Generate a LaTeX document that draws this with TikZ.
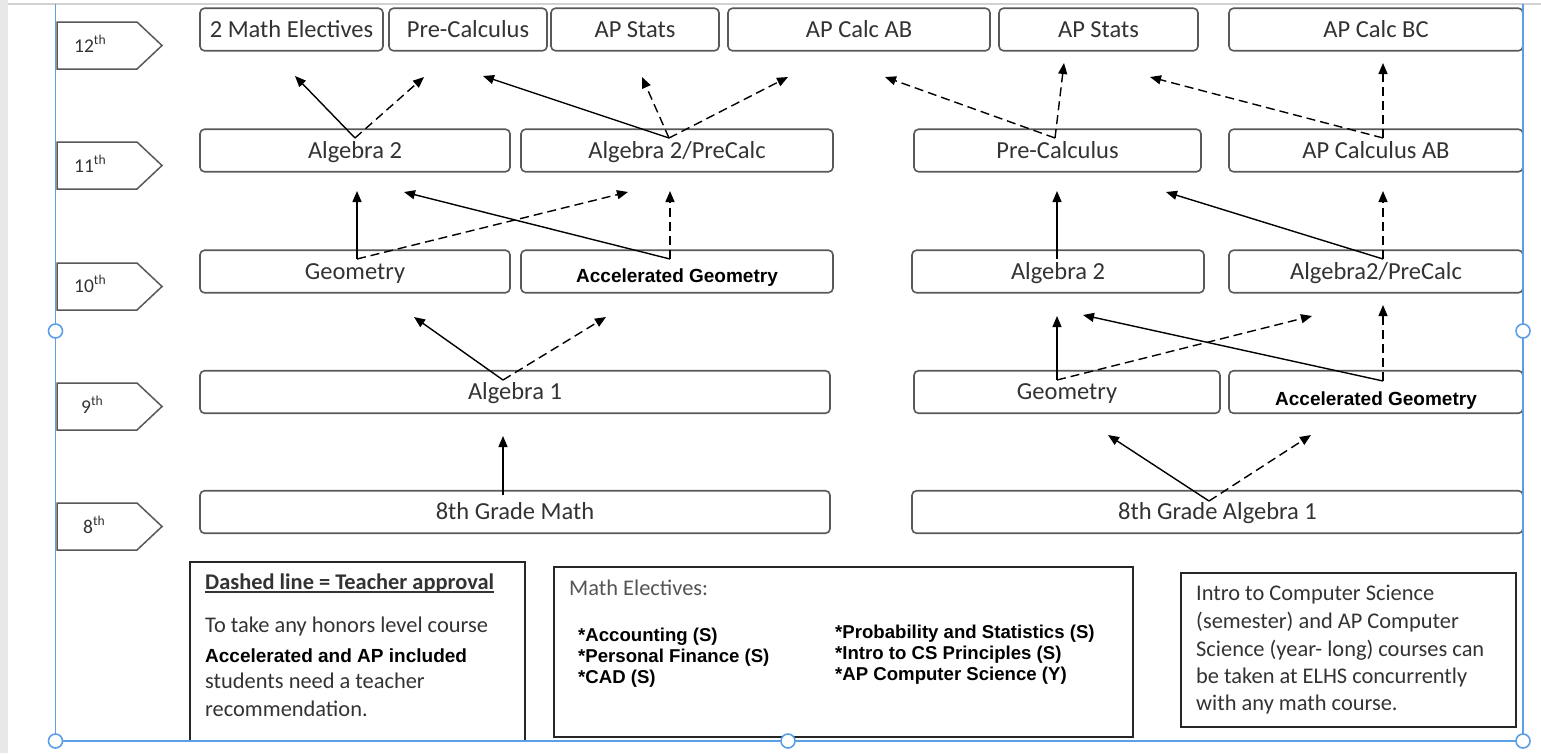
\documentclass[tikz,border=0pt]{standalone}
\usepackage{fontspec}
\setmainfont{Carlito}
\newfontfamily\arialf{Liberation Sans}
\usetikzlibrary{arrows.meta}
\definecolor{boxgray}{HTML}{595959}
\definecolor{txtgray}{HTML}{333333}
\definecolor{lightgray}{HTML}{555555}
\definecolor{selblue}{HTML}{5B9FE8}
\definecolor{stripgray}{HTML}{E8E8E8}
\tikzset{
  course/.style={draw=boxgray, line width=1.6pt, rounded corners=4.5pt, inner sep=0pt,
    minimum height=42.5pt, text=txtgray, font=\fontsize{24.5}{28}\selectfont,
    text height=15.8pt, text depth=0pt},
  boldcourse/.style={course, text=black, font=\arialf\bfseries\fontsize{19}{22}\selectfont},
  arr/.style={line width=1.4pt, black, -{Triangle[length=11pt,width=9pt]}},
  darr/.style={arr, dash pattern=on 9pt off 5pt},
  gradebox/.style={draw=boxgray, line width=1.5pt, fill=white},
  gradetext/.style={anchor=base west, inner sep=0pt, text=txtgray, font=\fontsize{19.5}{22}\selectfont},
  legbox/.style={draw=black!85, line width=1.4pt},
  legtext/.style={anchor=base west, inner sep=0pt, text=txtgray, font=\fontsize{22.4}{27}\selectfont},
  legbold/.style={anchor=base west, inner sep=0pt, text=black, font=\arialf\bfseries\fontsize{19}{22}\selectfont},
  elective/.style={anchor=base west, inner sep=0pt, text=black, align=left,
    font=\arialf\bfseries\fontsize{18.6}{20.8}\selectfont},
  handle/.style={draw=selblue, line width=1.6pt, fill=white}
}
\begin{document}
\begin{tikzpicture}[x=1pt,y=-1pt]
\useasboundingbox (0,0) rectangle (1541,753);
\fill[white] (0,0) rectangle (1541,753);
\fill[stripgray] (0,0) rectangle (8,753);
\draw[stripgray!90!black, line width=1.3pt] (8,4) -- (1541,4);

% grade labels
\foreach \yy/\nm in {22/g12, 142/g11, 263/g10, 383/g9, 503/g8}{
  \draw[gradebox] (57,\yy) -- ++(80,0) -- ++(25,23.5) -- ++(-25,23.5) -- ++(-80,0) -- cycle;
}
\node[gradetext] (t12) at (74,52) {12\textsuperscript{th}};
\node[gradetext] (t11) at (74,172) {11\textsuperscript{th}};
\node[gradetext] (t10) at (74,292) {10\textsuperscript{th}};
\node[gradetext] (t9) at (81,413) {9\textsuperscript{th}};
\node[gradetext] (t8) at (83,533) {8\textsuperscript{th}};

% row 12
\node[course, minimum width=183pt] (el) at (291.5,29.5) {2 Math Electives};
\node[course, minimum width=158pt] (pcA) at (468,29.5) {Pre-Calculus};
\node[course, minimum width=168pt] (apsA) at (635,29.5) {AP Stats};
\node[course, minimum width=262pt] (ab) at (859,29.5) {AP Calc AB};
\node[course, minimum width=199pt] (apsB) at (1098.5,29.5) {AP Stats};
\node[course, minimum width=294pt] (bc) at (1376,29.5) {AP Calc BC};
% row 11
\node[course, minimum width=310pt] (algA) at (355,150.5) {Algebra 2};
\node[course, minimum width=312pt] (apcA) at (677,150.5) {Algebra 2/PreCalc};
\node[course, minimum width=287pt] (pcB) at (1057.5,150.5) {Pre-Calculus};
\node[course, minimum width=294pt] (cab) at (1376,150.5) {AP Calculus AB};
% row 10
\node[course, minimum width=310pt] (geoA) at (355,271.5) {Geometry};
\node[boldcourse, minimum width=312pt, text height=21.6pt] (ageoA) at (677,271.5) {Accelerated Geometry};
\node[course, minimum width=292pt] (algB) at (1058,271.5) {Algebra 2};
\node[course, minimum width=294pt] (apcB) at (1376,271.5) {Algebra2/PreCalc};
% row 9
\node[course, minimum width=630pt] (alg1) at (515,392) {Algebra 1};
\node[course, minimum width=306pt] (geoB) at (1067,392) {Geometry};
\node[boldcourse, minimum width=294pt, text height=26.6pt] (ageoB) at (1376,392) {Accelerated Geometry};
% row 8
\node[course, minimum width=630pt] (m8) at (515,512) {8th Grade Math};
\node[course, minimum width=611pt] (a8) at (1217.5,512) {8th Grade Algebra 1};

% start points
\coordinate (sA) at (355,138);
\coordinate (sB) at (669,138);
\coordinate (sC) at (1055,138);
\coordinate (sD) at (1383,138);
\coordinate (sE) at (357,259);
\coordinate (sF) at (670,259);
\coordinate (sG) at (1057,259);
\coordinate (sH) at (1383,259);
\coordinate (sI) at (503,380);
\coordinate (sJ) at (1057,380);
\coordinate (sK) at (1383,381);
\coordinate (sL) at (503,495);
\coordinate (sM) at (1209,501);
% end points
\coordinate (e1) at (295,76);
\coordinate (e2) at (424,77);
\coordinate (e3) at (483,76);
\coordinate (e4) at (642,77);
\coordinate (e5) at (788,77);
\coordinate (e6) at (885,77);
\coordinate (e7) at (1064,63);
\coordinate (e8) at (1150,77);
\coordinate (e9) at (1383,63);
\coordinate (e10) at (357,191);
\coordinate (e11) at (628,192);
\coordinate (e12) at (404,192);
\coordinate (e13) at (670,191);
\coordinate (e14) at (1057,191);
\coordinate (e15) at (1166,192);
\coordinate (e16) at (1383,191);
\coordinate (e17) at (414,317);
\coordinate (e18) at (606,317);
\coordinate (e19) at (1057,316);
\coordinate (e20) at (1312,316);
\coordinate (e21) at (1083,315);
\coordinate (e22) at (1383,305);
\coordinate (e23) at (503,436);
\coordinate (e24) at (1108,435);
\coordinate (e25) at (1311,435);

\draw[arr] (sA) -- (e1);
\draw[darr] (sA) -- (e2);
\draw[arr] (sB) -- (e3);
\draw[darr] (sB) -- (e4);
\draw[darr] (sB) -- (e5);
\draw[darr] (sC) -- (e6);
\draw[darr] (sC) -- (e7);
\draw[darr] (sD) -- (e8);
\draw[darr] (sD) -- (e9);
\draw[arr] (sE) -- (e10);
\draw[darr] (sE) -- (e11);
\draw[arr] (sF) -- (e12);
\draw[darr] (sF) -- (e13);
\draw[arr] (sG) -- (e14);
\draw[arr] (sH) -- (e15);
\draw[darr] (sH) -- (e16);
\draw[arr] (sI) -- (e17);
\draw[darr] (sI) -- (e18);
\draw[arr] (sJ) -- (e19);
\draw[darr] (sJ) -- (e20);
\draw[arr] (sK) -- (e21);
\draw[darr] (sK) -- (e22);
\draw[arr] (sL) -- (e23);
\draw[arr] (sM) -- (e24);
\draw[darr] (sM) -- (e25);

% legend boxes
\draw[legbox] (190,562) rectangle (525,741);
\node[legtext, font=\bfseries\fontsize{22.4}{27}\selectfont] (l1) at (205,589) {Dashed line = Teacher approval};
\draw[line width=1.3pt, txtgray] ([yshift=-3pt]l1.base west) -- ([yshift=-3pt]l1.base east);
\node[legtext] (l2) at (205,632) {To take any honors level course};
\node[legbold] (l3) at (205,662) {Accelerated and AP included};
\node[legtext] (l4) at (205,688) {students need a teacher};
\node[legtext] (l5) at (205,716) {recommendation.};

\draw[legbox] (554,567) rectangle (1133,737);
\node[legtext, text=lightgray] (me) at (569,595) {Math Electives:};
\node[elective] (c1) at (578,683) {*Accounting (S)\\*Personal Finance (S)\\*CAD (S)};
\node[elective] (c2) at (835,680) {*Probability and Statistics (S)\\*Intro to CS Principles (S)\\*AP Computer Science (Y)};

\draw[legbox] (1181,573) rectangle (1516,727);
\node[legtext] (r1) at (1196,600) {Intro to Computer Science};
\node[legtext] (r2) at (1196,628) {(semester) and AP Computer};
\node[legtext] (r3) at (1196,656) {Science (year- long) courses can};
\node[legtext] (r4) at (1196,683) {be taken at ELHS concurrently};
\node[legtext] (r5) at (1196,710) {with any math course.};

% selection frame
\draw[selblue, line width=1.4pt] (55.5,4) -- (55.5,741) -- (1523,741) -- (1523,4);
\draw[handle] (55.5,331) circle[radius=7];
\draw[handle] (1523,331) circle[radius=7];
\draw[handle] (55.5,741) circle[radius=7];
\draw[handle] (788,741) circle[radius=7];
\draw[handle] (1523,741) circle[radius=7];
\end{tikzpicture}
\end{document}
